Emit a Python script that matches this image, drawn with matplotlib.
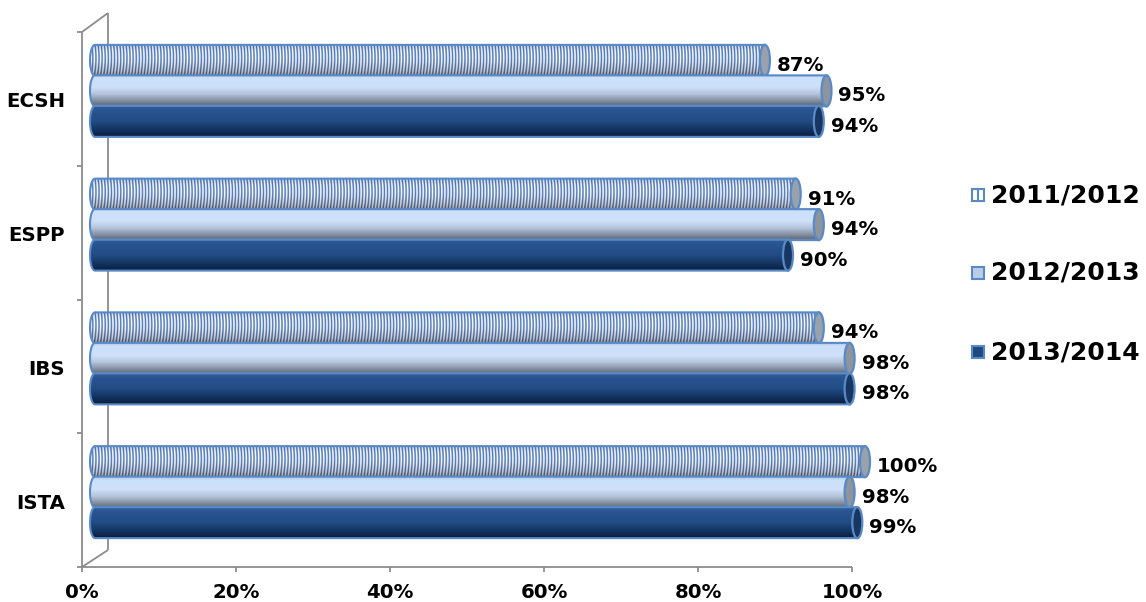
import numpy as np
import matplotlib
matplotlib.use("Agg")
import matplotlib.pyplot as plt
from matplotlib.path import Path
from matplotlib.patches import PathPatch, Ellipse, Rectangle

# ---- data -------------------------------------------------------------
categories = ["ISTA", "IBS", "ESPP", "ECSH"]          # bottom to top
series_names = ["2011/2012", "2012/2013", "2013/2014"]
v_2011_2012 = [100, 94, 91, 87]
v_2012_2013 = [98, 98, 94, 95]
v_2013_2014 = [99, 98, 90, 94]
x_ticks = [0, 20, 40, 60, 80, 100]
x_tick_labels = ["0%", "20%", "40%", "60%", "80%", "100%"]

series_values = [v_2011_2012, v_2012_2013, v_2013_2014]

# ---- figure / coordinate frame ---------------------------------------
W, H = 1146, 602
fig = plt.figure(figsize=(W / 100, H / 100), dpi=100)
ax = fig.add_axes([0, 0, 1, 1])
ax.set_axis_off()

X0_PX, X100_PX = 82, 852      # front plane, left/right
YB_PX, YT_PX = 567, 32        # front plane, bottom/top (from top edge)
ppx = (X100_PX - X0_PX) / 100.0
ppy = (YB_PX - YT_PX) / len(categories)
ax.set_xlim(-X0_PX / ppx, (W - X0_PX) / ppx)
ax.set_ylim(-(H - YB_PX) / ppy, YB_PX / ppy)


def px_x(p):
    return p / ppx


def px_y(p):
    return p / ppy


FONT = "DejaVu Sans"
LABEL_SIZE = 14.2
GRID = "#8C8C8C"
EDGE = "#5A8AC6"

# ---- 3-D frame (left wall and floor) -----------------------------------
depth_x, depth_y = px_x(26), px_y(17)
ny_cat = len(categories)
frame_kw = dict(color=GRID, lw=1.3, solid_capstyle="butt", zorder=1)
ax.plot([0, 0], [0, ny_cat], **frame_kw)
ax.plot([depth_x, depth_x], [depth_y, ny_cat + px_y(19)], **frame_kw)
ax.plot([0, depth_x], [ny_cat, ny_cat + px_y(19)], **frame_kw)
ax.plot([0, depth_x], [0, depth_y], **frame_kw)
ax.plot([0, 100], [0, 0], **frame_kw)
for xt in x_ticks:
    ax.plot([xt, xt], [0, -px_y(5)], **frame_kw)
for k in range(ny_cat + 1):
    ax.plot([0, -px_x(5)], [k, k], **frame_kw)

for xt, lab in zip(x_ticks, x_tick_labels):
    ax.text(xt, -px_y(26), lab, ha="center", va="center",
            fontsize=LABEL_SIZE, fontweight="bold", family=FONT)
for i, cat in enumerate(categories):
    ax.text(-px_x(17), i + 0.5 - px_y(3), cat, ha="right", va="center",
            fontsize=LABEL_SIZE, fontweight="bold", family=FONT)


# ---- cylinder shading ---------------------------------------------------
def profile(stops, n):
    t = np.linspace(0, 1, n)
    ts = [s[0] for s in stops]
    cols = np.array([s[1] for s in stops], dtype=float)
    return np.stack([np.interp(t, ts, cols[:, k]) for k in range(3)], axis=1)


SHADE_STRIPE_BG = [(0.0, (0.80, 0.85, 0.93)), (0.18, (1.0, 1.0, 1.0)),
                   (0.55, (0.96, 0.97, 0.99)), (0.85, (0.78, 0.80, 0.84)),
                   (1.0, (0.62, 0.64, 0.68))]
SHADE_STRIPE_FG = [(0.0, (0.24, 0.40, 0.66)), (0.4, (0.30, 0.47, 0.72)),
                   (0.8, (0.28, 0.38, 0.54)), (1.0, (0.20, 0.26, 0.36))]
SHADE_LIGHT = [(0.0, (0.68, 0.78, 0.92)), (0.10, (0.80, 0.88, 0.98)),
               (0.40, (0.81, 0.88, 0.98)), (0.62, (0.71, 0.77, 0.86)),
               (0.82, (0.53, 0.58, 0.65)), (0.95, (0.40, 0.44, 0.50)),
               (1.0, (0.46, 0.51, 0.58))]
SHADE_DARK = [(0.0, (0.20, 0.38, 0.62)), (0.15, (0.16, 0.33, 0.57)),
              (0.5, (0.13, 0.30, 0.52)), (0.8, (0.07, 0.19, 0.36)),
              (1.0, (0.04, 0.11, 0.24))]

STYLES = [
    dict(kind="stripe", cap=(0.60, 0.63, 0.67)),
    dict(kind="light", cap=(0.55, 0.58, 0.62)),
    dict(kind="dark", cap=(0.09, 0.21, 0.38)),
]

BAR_H = px_y(31)
BAR_STEP = px_y(30.5)
CAP_A = px_x(5)
BAR_DX = px_x(13)
BAR_DY = px_y(8)
SCALE = 4  # texture samples per pixel


def body_image(kind, w_px, h_px):
    nx = max(int(w_px * SCALE), 2)
    ny = max(int(h_px * SCALE), 2)
    if kind == "light":
        col = profile(SHADE_LIGHT, ny)
        return np.repeat(col[:, None, :], nx, axis=1)
    if kind == "dark":
        col = profile(SHADE_DARK, ny)
        return np.repeat(col[:, None, :], nx, axis=1)
    bg = profile(SHADE_STRIPE_BG, ny)[:, None, :]
    fg = profile(SHADE_STRIPE_FG, ny)[:, None, :]
    t = np.linspace(0, 1, ny)[:, None]
    xs = np.arange(nx)[None, :] / SCALE
    shift = 5.0 * (t - 0.5) ** 2 + 0.8 * t
    phase = (xs + shift) / 3.1
    m = np.clip((np.cos(2 * np.pi * phase) + 0.45) / 1.2, 0, 1) ** 0.8
    m = m[:, :, None]
    return bg * (1 - m) + fg * m


def draw_cylinder(value, yc, style, z):
    x0 = BAR_DX
    x1 = value + BAR_DX
    a = CAP_A
    hh = BAR_H / 2
    th = np.linspace(1.5 * np.pi, 0.5 * np.pi, 41)
    ell = np.column_stack([x0 + a * np.cos(th), yc + hh * np.sin(th)])
    verts = np.vstack([[[x1, yc + hh], [x1, yc - hh]], ell, [[x1, yc + hh]]])
    path = Path(verts, closed=True)

    w_px = (x1 - x0 + a) * ppx
    h_px = BAR_H * ppy
    img = body_image(style["kind"], w_px, h_px)
    im = ax.imshow(img, extent=(x0 - a, x1, yc - hh, yc + hh),
                   aspect="auto", interpolation="antialiased", zorder=z)
    clip = PathPatch(path, transform=ax.transData, fc="none", ec="none")
    im.set_clip_path(clip)
    ax.add_patch(PathPatch(path, fc="none", ec=EDGE, lw=1.5, zorder=z + 0.001))
    ax.add_patch(Ellipse((x1, yc), 2 * a, 2 * hh, fc=style["cap"], ec=EDGE,
                         lw=1.6, zorder=z + 0.002))
    ax.text(x1 + a + px_x(7), yc - px_y(5), f"{value}%", ha="left",
            va="center", fontsize=LABEL_SIZE, fontweight="bold", family=FONT,
            zorder=z + 0.003)


z = 2.0
for i in range(len(categories)):
    for j, vals in enumerate(series_values):
        yc = i + 0.5 + BAR_DY + (1 - j) * BAR_STEP
        draw_cylinder(vals[i], yc, STYLES[j], z)
        z += 0.01

# ---- legend -------------------------------------------------------------
leg_y = [195, 273, 352]
leg_fill = [(1.0, 1.0, 1.0), (0.73, 0.80, 0.90), (0.12, 0.29, 0.50)]
for k, (name, yp, fc) in enumerate(zip(series_names, leg_y, leg_fill)):
    fy = 1 - yp / H
    s = 12
    fig.patches.append(Rectangle((972 / W, fy - (s / 2) / H), s / W, s / H,
                                 transform=fig.transFigure, fc=fc, ec=EDGE,
                                 lw=1.5))
    if k == 0:
        fig.lines.append(plt.Line2D([978 / W] * 2, [fy - 6 / H, fy + 6 / H],
                                    transform=fig.transFigure,
                                    color=EDGE, lw=1.5))
    fig.text(991 / W, fy, name, ha="left", va="center", fontsize=18,
             fontweight="bold", family=FONT)

fig.savefig("out.png", dpi=100)
